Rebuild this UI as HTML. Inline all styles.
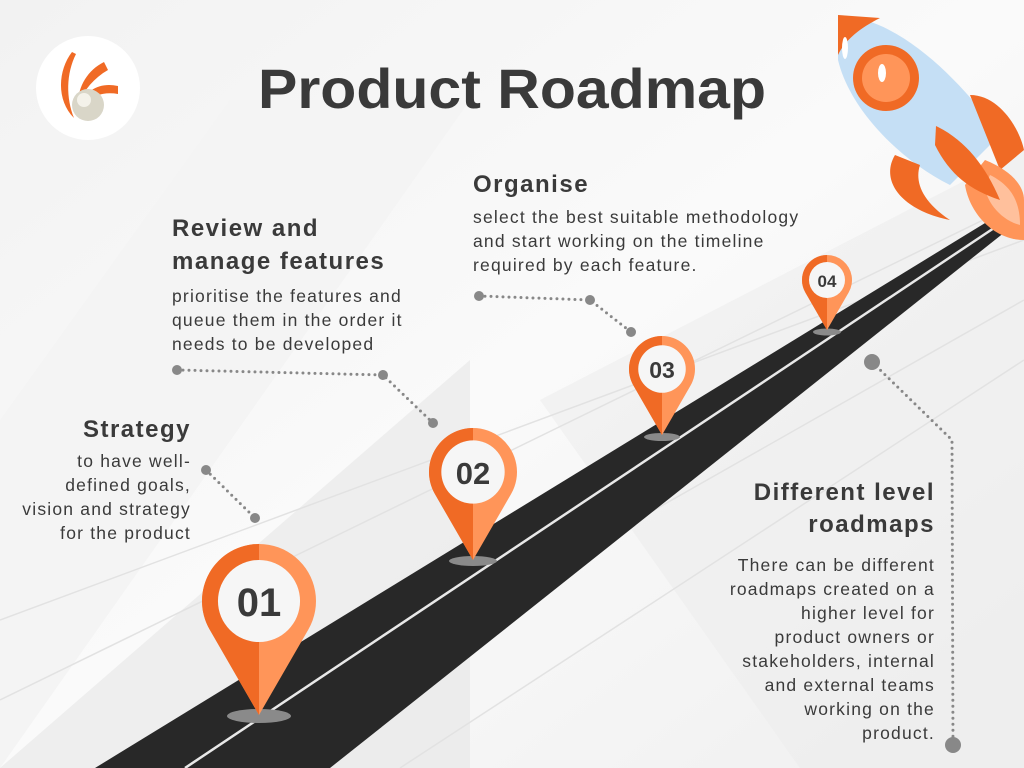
<!DOCTYPE html>
<html><head><style>
html,body{margin:0;padding:0;width:1024px;height:768px;overflow:hidden;background:#fff}
svg{display:block}
text{font-family:"Liberation Sans",sans-serif;fill:#3a3a3a}
</style></head><body>
<svg width="1024" height="768" viewBox="0 0 1024 768">
<defs>
<linearGradient id="bg" x1="0" y1="0" x2="1" y2="1">
<stop offset="0" stop-color="#f2f2f2"/><stop offset="0.5" stop-color="#fafafa"/><stop offset="1" stop-color="#efefef"/></linearGradient>
<g id="pinA">
<path d="M0,2 L-0.866,0.5 A1 1 0 1 1 0.866,0.5 Z" fill="#FF9559"/>
<path d="M0,2 L-0.866,0.5 A1 1 0 0 1 0,-1 Z" fill="#F06A25"/>
<circle r="0.72" fill="#f6f6f6"/>
</g>
</defs>
<rect width="1024" height="768" fill="url(#bg)"/>
<polygon points="0,420 230,100 470,100 0,768" fill="#f4f4f4"/>
<polygon points="540,400 1024,150 1024,768 800,768" fill="#ececec" opacity="0.6"/>
<polygon points="0,768 470,360 470,768" fill="#e6e6e6" opacity="0.6"/>
<g stroke="#e2e2e2" stroke-width="1.5">
<line x1="0" y1="700" x2="1024" y2="200"/><line x1="200" y1="768" x2="1024" y2="300"/>
<line x1="0" y1="620" x2="1024" y2="240"/><line x1="400" y1="768" x2="1024" y2="360"/>
</g>
<!-- road -->
<polygon points="95,768 990,220 1010,228 330,768" fill="#282828"/>
<line x1="185" y1="768" x2="1000" y2="224" stroke="#e8e8e8" stroke-width="2.5"/>
<!-- shadows -->
<ellipse cx="259" cy="716" rx="32" ry="7" fill="#8a8a8a"/>
<ellipse cx="473" cy="561" rx="24" ry="5" fill="#8a8a8a"/>
<ellipse cx="662" cy="437" rx="18" ry="4" fill="#8a8a8a"/>
<ellipse cx="827" cy="332" rx="14" ry="3.5" fill="#8a8a8a"/>
<!-- pins -->
<use href="#pinA" transform="translate(259,601) scale(57)"/>
<use href="#pinA" transform="translate(473,472) scale(44)"/>
<use href="#pinA" transform="translate(662,369) scale(33)"/>
<use href="#pinA" transform="translate(827,280) scale(25)"/>
<text x="259" y="616" font-size="40" font-weight="bold" text-anchor="middle" fill="#505050">01</text>
<text x="473" y="484" font-size="31" font-weight="bold" text-anchor="middle" fill="#505050">02</text>
<text x="662" y="378" font-size="23" font-weight="bold" text-anchor="middle" fill="#505050">03</text>
<text x="827" y="287" font-size="17" font-weight="bold" text-anchor="middle" fill="#505050">04</text>
<!-- connectors -->
<g stroke="#888" stroke-width="3" stroke-linecap="round" stroke-dasharray="0 6" fill="none">
<polyline points="206,470 255,518"/>
<polyline points="177,370 383,375 433,423"/>
<polyline points="479,296 590,300 631,332"/>
<polyline points="872,362 952,440 953,745"/>
</g>
<g fill="#888"><circle cx="206" cy="470" r="5"/><circle cx="255" cy="518" r="5"/>
<circle cx="177" cy="370" r="5"/><circle cx="383" cy="375" r="5"/><circle cx="433" cy="423" r="5"/>
<circle cx="479" cy="296" r="5"/><circle cx="590" cy="300" r="5"/><circle cx="631" cy="332" r="5"/>
<circle cx="872" cy="362" r="8"/><circle cx="953" cy="745" r="8"/></g>
<!-- title -->
<text x="512" y="108" font-size="56" font-weight="bold" text-anchor="middle" textLength="508" lengthAdjust="spacingAndGlyphs" fill="#3a3a3a">Product Roadmap</text>
<!-- logo -->
<circle cx="88" cy="88" r="52" fill="#fff"/>
<path d="M72,52 C58,70 56,100 74,118 C66,98 66,74 76,54 Z" fill="#F06A25"/>
<path d="M104,62 C88,70 78,86 78,104 C84,90 94,78 108,70 Z" fill="#F06A25"/>
<path d="M118,86 C100,82 86,90 82,104 C94,94 106,92 118,94 Z" fill="#F06A25"/>
<circle cx="88" cy="105" r="16" fill="#d9d6c8"/>
<circle cx="84" cy="100" r="7" fill="#f4f2ea"/>
<!-- rocket -->
<g>
<path d="M838,15 C900,18 960,80 1000,135 L950,185 C900,160 850,110 838,60 Z" fill="#c5dff5"/>
<path d="M838,15 L880,18 C860,28 845,40 838,55 Z" fill="#F06A25"/>
<ellipse cx="845" cy="48" rx="3" ry="11" fill="#fff"/>
<circle cx="886" cy="78" r="33" fill="#F06A25"/>
<circle cx="886" cy="78" r="24" fill="#FF9559"/>
<ellipse cx="882" cy="73" rx="4" ry="9" fill="#fff"/>
<path d="M970,95 C1000,95 1020,130 1024,150 L1000,170 Z" fill="#F06A25"/>
<path d="M895,155 C880,180 900,210 950,220 C920,200 915,180 920,165 Z" fill="#F06A25"/>
<path d="M985,160 C1010,170 1024,185 1024,200 L1024,240 C995,240 970,215 965,185 Z" fill="#FF9559"/>
<path d="M990,175 C1010,185 1020,200 1020,225 C1000,220 985,200 985,185 Z" fill="#ffc09c"/>
<path d="M936,126 C965,140 985,165 1000,200 C970,190 950,175 935,145 Z" fill="#F06A25"/>
</g>
<!-- texts -->
<g font-size="24" font-weight="bold" letter-spacing="1.5">
<text x="191" y="437" text-anchor="end">Strategy</text>
<text x="172" y="236">Review and</text>
<text x="172" y="269">manage features</text>
<text x="473" y="192">Organise</text>
<text x="935" y="500" text-anchor="end">Different level</text>
<text x="935" y="532" text-anchor="end">roadmaps</text>
</g>
<g font-size="17.5" fill="#444" letter-spacing="1.2">
<text x="191" y="467" text-anchor="end">to have well-</text>
<text x="191" y="491" text-anchor="end">defined goals,</text>
<text x="191" y="515" text-anchor="end">vision and strategy</text>
<text x="191" y="539" text-anchor="end">for the product</text>
<text x="172" y="302">prioritise the features and</text>
<text x="172" y="326">queue them in the order it</text>
<text x="172" y="350">needs to be developed</text>
<text x="473" y="223">select the best suitable methodology</text>
<text x="473" y="247">and start working on the timeline</text>
<text x="473" y="271">required by each feature.</text>
<text x="935" y="571" text-anchor="end">There can be different</text>
<text x="935" y="595" text-anchor="end">roadmaps created on a</text>
<text x="935" y="619" text-anchor="end">higher level for</text>
<text x="935" y="643" text-anchor="end">product owners or</text>
<text x="935" y="667" text-anchor="end">stakeholders, internal</text>
<text x="935" y="691" text-anchor="end">and external teams</text>
<text x="935" y="715" text-anchor="end">working on the</text>
<text x="935" y="739" text-anchor="end">product.</text>
</g>
</svg>
</body></html>
